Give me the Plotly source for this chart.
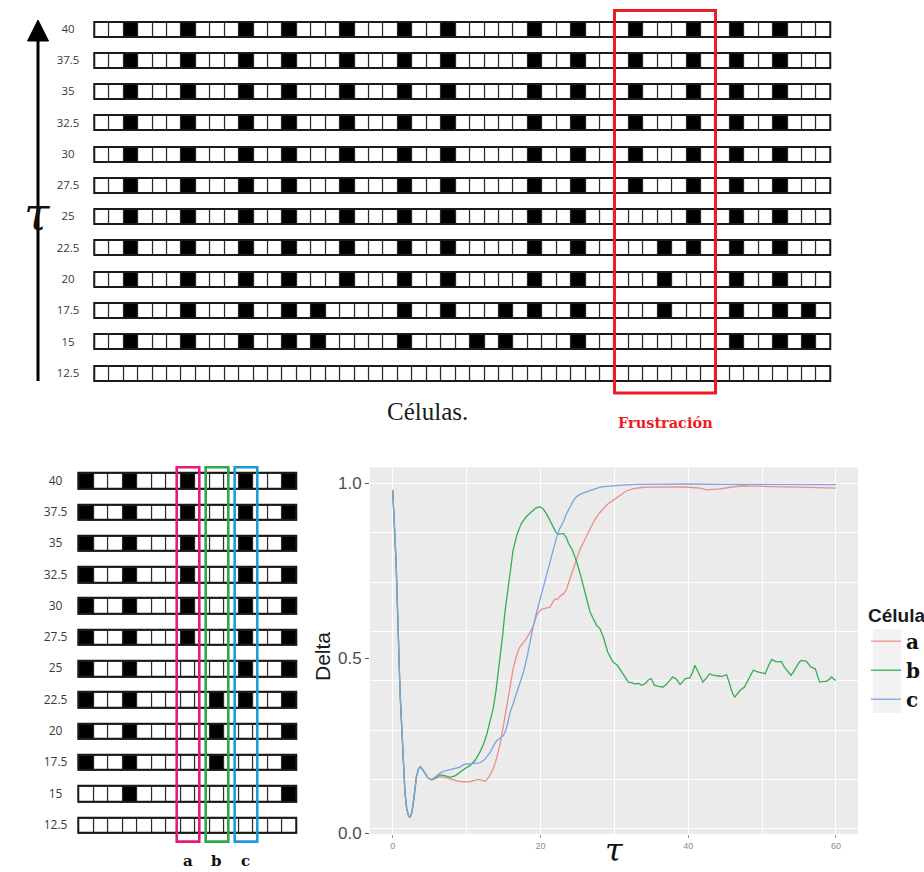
import plotly.graph_objects as go

W, H = 924, 872

# ---------------------------------------------------------------- cell grids
tau_rows = [12.5, 15, 17.5, 20, 22.5, 25, 27.5, 30, 32.5, 35, 37.5, 40]
n_cells = 51

# indices of the black (active) cells in each row, bottom row first
black_12_5 = []
black_15 = [2, 6, 10, 13, 15, 21, 26, 28, 33, 44, 47, 49]
black_17_5 = [2, 6, 10, 13, 15, 21, 24, 28, 30, 33, 39, 44, 47, 49]
black_20 = [2, 6, 10, 13, 17, 21, 24, 30, 33, 39, 44, 47]
black_22_5 = [2, 6, 10, 13, 17, 21, 24, 30, 33, 39, 41, 44, 47]
black_25 = [2, 6, 10, 13, 17, 21, 24, 30, 33, 41, 44, 47]
black_27_5 = [2, 6, 10, 13, 17, 21, 24, 30, 33, 37, 41, 44, 47]
black_30 = [2, 6, 10, 13, 17, 21, 24, 30, 33, 37, 41, 44, 47]
black_32_5 = [2, 6, 10, 13, 17, 21, 24, 30, 33, 37, 41, 44, 47]
black_35 = [2, 6, 10, 13, 17, 21, 24, 30, 33, 37, 41, 44, 47]
black_37_5 = [2, 6, 10, 13, 17, 21, 24, 30, 33, 37, 41, 44, 47]
black_40 = [2, 6, 10, 13, 17, 21, 24, 30, 33, 37, 41, 44, 47]

black_rows = [black_12_5, black_15, black_17_5, black_20, black_22_5, black_25,
              black_27_5, black_30, black_32_5, black_35, black_37_5, black_40]

frustration_cols = [36, 42]          # first / last cell of the frustrated block
detail_cols = list(range(30, 45))    # cells shown in the enlarged grid
cell_names = ["a", "b", "c"]
cell_cols = [37, 39, 41]
cell_colors = ["#E8197C", "#31A64E", "#1B9BD8"]

# ---------------------------------------------------------------- Delta curves
t_common = [0.0, 0.45, 1.0, 1.4, 1.66, 1.9, 2.15, 2.35, 2.6, 2.9, 3.2, 3.5,
            3.75, 4.0, 4.4, 4.8, 5.3]
d_common = [0.98, 0.78, 0.40, 0.22, 0.115, 0.07, 0.05, 0.045, 0.06, 0.105, 0.16,
            0.185, 0.19, 0.183, 0.17, 0.158, 0.153]

t_a = t_common + [5.9, 6.4, 7.0, 7.8, 8.5, 9.1, 10.0, 10.5, 11.2, 11.6, 12.0, 12.5,
                  13.0, 13.6, 14.0, 14.5, 15.0, 15.4, 15.9, 16.3, 16.8, 17.2, 17.7,
                  18.1, 18.6, 19.0, 19.4, 19.7, 20.1, 20.4, 20.9, 21.3, 21.7, 22.0,
                  22.3, 22.6, 23.1, 23.5, 24.0, 24.4, 24.9, 25.3, 25.8, 26.3, 26.7,
                  27.2, 27.8, 28.5, 29.2, 29.9, 30.8, 31.6, 32.6, 33.7, 34.9, 37.0,
                  39.3, 40.5, 41.6, 42.5, 43.3, 44.3, 45.5, 46.5, 47.4, 48.5, 50.6,
                  52.5, 55.1, 57.5, 60.0]
delta_a = d_common + [0.158, 0.162, 0.160, 0.155, 0.150, 0.148, 0.147, 0.148, 0.152,
                      0.154, 0.152, 0.149, 0.160, 0.184, 0.210, 0.251, 0.310, 0.356,
                      0.420, 0.470, 0.510, 0.532, 0.545, 0.556, 0.575, 0.590, 0.618,
                      0.630, 0.640, 0.642, 0.644, 0.646, 0.662, 0.670, 0.668, 0.677,
                      0.684, 0.695, 0.728, 0.755, 0.785, 0.809, 0.830, 0.852, 0.872,
                      0.890, 0.910, 0.928, 0.942, 0.952, 0.967, 0.978, 0.985, 0.988,
                      0.989, 0.990, 0.990, 0.988, 0.986, 0.981, 0.982, 0.984, 0.988,
                      0.991, 0.993, 0.992, 0.990, 0.990, 0.989, 0.988, 0.986]

t_b = t_common + [5.9, 6.4, 7.0, 7.8, 8.5, 9.1, 9.8, 10.5, 11.2, 11.8, 12.3, 12.7,
                  13.2, 13.6, 14.0, 14.5, 14.9, 15.2, 15.6, 15.9, 16.3, 16.8, 17.4,
                  18.1, 18.8, 19.4, 19.9, 20.3, 20.8, 21.2, 21.7, 22.1, 22.4, 22.8,
                  23.1, 23.5, 23.8, 24.3, 24.9, 25.4, 25.8, 26.2, 26.7, 27.1, 27.6,
                  28.05, 28.5, 29.1, 29.8, 30.4, 31.0, 31.5, 31.9, 32.4, 32.8, 33.3,
                  33.7, 34.2, 34.6, 35.0, 35.4, 36.0, 36.6, 37.0, 37.3, 37.9, 38.4,
                  38.9, 39.2, 39.6, 40.2, 40.6, 40.9, 41.3, 41.7, 42.0, 42.5, 42.9,
                  43.3, 43.8, 44.5, 45.2, 45.7, 46.0, 46.3, 46.7, 47.0, 47.6, 48.1,
                  48.8, 49.4, 49.9, 50.4, 50.9, 51.3, 51.9, 52.6, 52.9, 53.3, 53.9,
                  54.2, 54.6, 55.0, 55.3, 56.0, 56.6, 57.2, 57.5, 57.8, 58.3, 58.7,
                  59.1, 59.4, 59.7, 60.0]
delta_b = d_common + [0.160, 0.167, 0.165, 0.160, 0.165, 0.175, 0.185, 0.194, 0.210,
                      0.232, 0.255, 0.280, 0.320, 0.356, 0.410, 0.490, 0.570, 0.633,
                      0.700, 0.757, 0.810, 0.852, 0.885, 0.905, 0.920, 0.930, 0.933,
                      0.928, 0.914, 0.897, 0.876, 0.860, 0.854, 0.855, 0.857, 0.845,
                      0.828, 0.810, 0.776, 0.740, 0.709, 0.670, 0.633, 0.615, 0.594,
                      0.585, 0.561, 0.518, 0.490, 0.480, 0.461, 0.445, 0.432, 0.430,
                      0.427, 0.428, 0.423, 0.428, 0.438, 0.442, 0.423, 0.420, 0.418,
                      0.425, 0.432, 0.447, 0.440, 0.425, 0.432, 0.442, 0.444, 0.460,
                      0.480, 0.461, 0.445, 0.432, 0.445, 0.456, 0.452, 0.451, 0.448,
                      0.453, 0.423, 0.400, 0.389, 0.400, 0.408, 0.418, 0.440, 0.466,
                      0.461, 0.458, 0.456, 0.480, 0.497, 0.490, 0.491, 0.478, 0.466,
                      0.451, 0.460, 0.475, 0.488, 0.494, 0.491, 0.475, 0.470, 0.450,
                      0.432, 0.434, 0.434, 0.440, 0.447, 0.440, 0.437]

t_c = t_common + [5.9, 6.4, 7.0, 7.8, 8.5, 9.1, 9.6, 10.0, 10.8, 11.8, 12.5, 13.2,
                  13.7, 14.1, 14.6, 15.0, 15.4, 15.9, 16.3, 16.8, 17.2, 17.7, 18.2,
                  18.6, 19.0, 19.5, 20.0, 20.4, 20.9, 21.3, 21.8, 22.2, 22.6, 23.1,
                  23.5, 24.0, 24.5, 24.9, 25.5, 26.3, 27.2, 28.1, 29.0, 29.9, 31.0,
                  33.0, 36.0, 40.0, 45.0, 50.0, 55.0, 60.0]
delta_c = d_common + [0.162, 0.172, 0.178, 0.183, 0.186, 0.189, 0.196, 0.198, 0.199,
                      0.201, 0.212, 0.232, 0.252, 0.265, 0.272, 0.280, 0.300, 0.346,
                      0.370, 0.404, 0.430, 0.461, 0.505, 0.552, 0.590, 0.633, 0.672,
                      0.704, 0.745, 0.781, 0.818, 0.847, 0.870, 0.890, 0.912, 0.933,
                      0.952, 0.962, 0.970, 0.976, 0.983, 0.989, 0.991, 0.993, 0.995,
                      0.997, 0.998, 0.998, 0.997, 0.997, 0.996, 0.996]

series_names = ["a", "b", "c"]
series_colors = ["#EC8F89", "#35AD55", "#7CA3E2"]

delta_ticks = [0.0, 0.5, 1.0]
time_ticks = [0, 20, 40, 60]


# ---------------------------------------------------------------- helpers
def lin(v, v0, p0, v1, p1):
    return p0 + (v - v0) * (p1 - p0) / (v1 - v0)


def xdomain(r0, r1, v0, p0, v1, p1):
    return [lin(r0, v0, p0, v1, p1) / W, lin(r1, v0, p0, v1, p1) / W]


def ydomain(r0, r1, v0, p0, v1, p1):
    return [1 - lin(r0, v0, p0, v1, p1) / H, 1 - lin(r1, v0, p0, v1, p1) / H]


def px(x):
    return x / W


def py(y):
    return 1 - y / H


fig = go.Figure()
SERIF = "DejaVu Serif"
SANS = "Liberation Sans"


def add_grid(cols, xa, ya, cell_h, label_x, label_size):
    xs, ys, bases, colors = [], [], [], []
    for r, blacks in enumerate(black_rows):
        for j, c in enumerate(cols):
            xs.append(j)
            ys.append(cell_h)
            bases.append(r - cell_h / 2)
            colors.append("#000000" if c in blacks else "#FFFFFF")
    fig.add_trace(go.Bar(x=xs, y=ys, base=bases, width=1,
                         marker=dict(color=colors, line=dict(color="#2a2a2a", width=1.2)),
                         xaxis=xa, yaxis=ya, showlegend=False, hoverinfo="skip"))
    n = len(cols)
    rows = list(range(len(black_rows)))
    fig.add_trace(go.Bar(x=[(n - 1) / 2] * len(rows), y=[cell_h] * len(rows),
                         base=[r - cell_h / 2 for r in rows], width=n,
                         marker=dict(color="rgba(0,0,0,0)", line=dict(color="#1a1a1a", width=1.9)),
                         xaxis=xa, yaxis=ya, showlegend=False, hoverinfo="skip"))
    fig.add_trace(go.Scatter(x=[label_x] * len(rows), y=rows, mode="text",
                             text=[f"{v:g}" for v in tau_rows],
                             textposition="middle center",
                             textfont=dict(family="Open Sans", size=label_size, color="#3a3a3a"),
                             xaxis=xa, yaxis=ya, showlegend=False, hoverinfo="skip"))


# top grid (all cells)
add_grid(list(range(n_cells)), "x2", "y2", 0.48, -2.37, 11.5)
# enlarged grid around the frustrated block
add_grid(detail_cols, "x3", "y3", 0.495, -2.14, 12)

# Delta curves (on the labelled axis y4, which overlays the gridded axis y)
for t, d, name, col in zip([t_a, t_b, t_c], [delta_a, delta_b, delta_c],
                           series_names, series_colors):
    fig.add_trace(go.Scatter(x=t, y=d, mode="lines", name=name,
                             line=dict(color=col, width=1.3), xaxis="x", yaxis="y4"))
# keeps the gridded base axis attached to the subplot
fig.add_trace(go.Scatter(x=[], y=[], mode="lines", xaxis="x", yaxis="y",
                         showlegend=False, hoverinfo="skip"))

shapes = []
annotations = []

# panel background of the Delta plot
shapes.append(dict(type="rect", xref="x domain", yref="y domain", x0=0, x1=1, y0=0, y1=1,
                   fillcolor="#EBEBEB", line=dict(width=0), layer="below"))

# frustrated block outline
shapes.append(dict(type="rect", xref="x2", yref="y2",
                   x0=frustration_cols[0] - 0.5, x1=frustration_cols[1] + 0.5,
                   y0=-0.61, y1=11.62, line=dict(color="#EC1C24", width=3)))

# cells a, b, c in the enlarged grid
for name, c, col in zip(cell_names, cell_cols, cell_colors):
    j = detail_cols.index(c)
    shapes.append(dict(type="rect", xref="x3", yref="y3", x0=j - 0.78, x1=j + 0.78,
                       y0=-0.5, y1=11.46, line=dict(color=col, width=2.6)))
    annotations.append(dict(xref="x3", yref="paper", x=j, y=py(861), yanchor="middle",
                            text=name, showarrow=False,
                            font=dict(family=SERIF, size=15, color="#111", weight="bold")))

# tau arrow next to the top grid
shapes.append(dict(type="line", xref="paper", yref="paper", x0=px(38), x1=px(38),
                   y0=py(381), y1=py(38), line=dict(color="#000", width=3)))
shapes.append(dict(type="path", xref="paper", yref="paper",
                   path=f"M {px(27.5)},{py(41)} L {px(48.5)},{py(41)} L {px(38)},{py(20)} Z",
                   fillcolor="#000", line=dict(color="#000", width=1)))

# legend key background
shapes.append(dict(type="rect", xref="paper", yref="paper", x0=px(873), x1=px(901),
                   y0=py(713), y1=py(629), fillcolor="#F2F2F2", line=dict(width=0),
                   layer="below"))

annotations += [
    dict(xref="paper", yref="paper", x=px(22), y=py(214), yanchor="middle", text="τ",
         showarrow=False, font=dict(family=SERIF, size=46, color="#111", style="italic")),
    dict(xref="paper", yref="paper", x=px(427), y=py(411), yanchor="middle", text="Células.",
         showarrow=False, font=dict(family="Liberation Serif", size=25, color="#1a1a1a")),
    dict(xref="x2", yref="paper", x=(frustration_cols[0] + frustration_cols[1]) / 2,
         y=py(422), yanchor="middle", text="Frustración", showarrow=False,
         font=dict(family=SERIF, size=14.5, color="#EC1C24", weight="bold")),
    dict(xref="paper", yref="paper", x=px(322), y=py(657), yanchor="middle", text="Delta",
         textangle=-90, showarrow=False, font=dict(family=SANS, size=21, color="#1a1a1a")),
    dict(xref="paper", yref="paper", x=px(614), y=py(850), yanchor="middle", text="τ",
         showarrow=False, font=dict(family=SERIF, size=32, color="#111", style="italic")),
]

hidden = dict(visible=False, showgrid=False, zeroline=False, fixedrange=True)

# horizontal white grid of the Delta panel (alternating major / minor)
y_grid_step = 0.141
y_major = [1 - k * y_grid_step for k in range(0, 8, 2)]
y_minor = [1 - k * y_grid_step for k in range(1, 8, 2)]

x_rng = [-3.07, 63.0]
y_rng = [-0.002, 1.046]

fig.update_layout(
    width=W, height=H, autosize=False,
    margin=dict(l=0, r=0, t=0, b=0, autoexpand=False),
    paper_bgcolor="#FFFFFF", plot_bgcolor="rgba(0,0,0,0)",
    barmode="overlay", bargap=0,
    showlegend=True,
    shapes=shapes, annotations=annotations,
    xaxis=dict(domain=xdomain(x_rng[0], x_rng[1], 0, 392.7, 60, 836.0), range=x_rng,
               anchor="y", tickmode="array", tickvals=time_ticks,
               showgrid=True, gridcolor="#FFFFFF", gridwidth=1.2, zeroline=False,
               minor=dict(tickmode="array", tickvals=[10, 30, 50], showgrid=True,
                          gridcolor="#FFFFFF", gridwidth=0.6),
               ticks="outside", ticklen=3, tickcolor="#999999", tickwidth=1,
               tickfont=dict(family=SANS, size=9, color="#8C8C8C"), showline=False,
               fixedrange=True),
    yaxis=dict(domain=ydomain(y_rng[0], y_rng[1], 0, 833.3, 1, 483.3), range=y_rng,
               anchor="x", tickmode="array", tickvals=y_major, showticklabels=False,
               ticks="", showgrid=True, gridcolor="#FFFFFF", gridwidth=1.2,
               minor=dict(tickmode="array", tickvals=y_minor, showgrid=True,
                          gridcolor="#FFFFFF", gridwidth=0.6),
               zeroline=False, showline=False, fixedrange=True),
    yaxis4=dict(overlaying="y", anchor="x", side="left", range=y_rng,
                tickmode="array", tickvals=delta_ticks,
                ticktext=[f"{v:.1f}" for v in delta_ticks], showgrid=False, zeroline=False,
                ticks="outside", ticklen=4, tickcolor="#555555", tickwidth=1.2,
                tickfont=dict(family=SANS, size=17, color="#4D4D4D"), showline=False,
                fixedrange=True),
    xaxis2=dict(domain=xdomain(-3.4, 50.7, -0.5, 95, 50.5, 831), range=[-3.4, 50.7],
                anchor="y2", **hidden),
    yaxis2=dict(domain=ydomain(-0.8, 11.8, 0, 374, 11, 30), range=[-0.8, 11.8],
                anchor="x2", **hidden),
    xaxis3=dict(domain=xdomain(-3.2, 14.7, -0.5, 79.3, 14.5, 296.7), range=[-3.2, 14.7],
                anchor="y3", **hidden),
    yaxis3=dict(domain=ydomain(-0.8, 11.8, 0, 826, 11, 481.7), range=[-0.8, 11.8],
                anchor="x3", **hidden),
    legend=dict(x=px(866), y=py(597), xanchor="left", yanchor="top",
                bgcolor="rgba(0,0,0,0)", itemwidth=30, tracegroupgap=0,
                title=dict(text="Célula", font=dict(family=SANS, size=19, color="#1a1a1a")),
                font=dict(family=SERIF, size=20, color="#111", weight="bold")),
)

fig.write_html("out.html")
